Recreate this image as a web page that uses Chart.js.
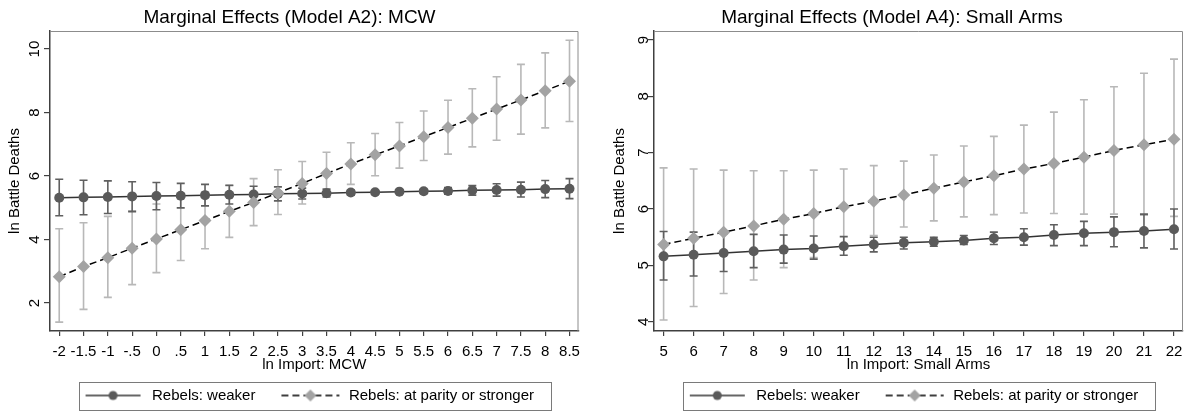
<!DOCTYPE html>
<html>
<head>
<meta charset="utf-8">
<script src="https://cdn.jsdelivr.net/npm/chart.js@4.4.1/dist/chart.umd.min.js"></script>
<style>
  html, body { margin: 0; padding: 0; background: #fff; overflow: hidden; }
  canvas { position: absolute; top: 0; }
  #mcwChart { left: 0; }
  #armsChart { left: 601px; }
</style>
</head>
<body>
<canvas id="mcwChart" width="585" height="414"></canvas>
<canvas id="armsChart" width="591" height="414"></canvas>
<script>
// ---- Model A2: MCW ----
const mcwX = [-2, -1.5, -1, -0.5, 0, 0.5, 1, 1.5, 2, 2.5, 3, 3.5, 4, 4.5, 5, 5.5, 6, 6.5, 7, 7.5, 8, 8.5];
const mcwTickLabels = ['-2', '-1.5', '-1', '-.5', '0', '.5', '1', '1.5', '2', '2.5', '3', '3.5', '4', '4.5', '5', '5.5', '6', '6.5', '7', '7.5', '8', '8.5'];
const mcwYTicks = [2, 4, 6, 8, 10];
const mcwWeaker = [5.32, 5.33, 5.34, 5.36, 5.37, 5.38, 5.40, 5.41, 5.42, 5.44, 5.45, 5.46, 5.48, 5.49, 5.51, 5.52, 5.53, 5.55, 5.56, 5.57, 5.59, 5.60];
const mcwWeakerLo = [4.75, 4.78, 4.82, 4.88, 4.94, 5.00, 5.06, 5.12, 5.17, 5.22, 5.28, 5.34, 5.40, 5.45, 5.47, 5.45, 5.43, 5.40, 5.37, 5.34, 5.32, 5.29];
const mcwWeakerHi = [5.90, 5.87, 5.85, 5.82, 5.80, 5.77, 5.74, 5.71, 5.68, 5.66, 5.62, 5.59, 5.56, 5.54, 5.55, 5.58, 5.64, 5.70, 5.76, 5.81, 5.86, 5.92];
const mcwStronger = [2.83, 3.15, 3.43, 3.73, 4.02, 4.31, 4.60, 4.89, 5.17, 5.47, 5.77, 6.08, 6.38, 6.67, 6.95, 7.24, 7.53, 7.82, 8.11, 8.40, 8.69, 8.99];
const mcwStrongerLo = [1.40, 1.80, 2.18, 2.58, 2.96, 3.34, 3.71, 4.07, 4.44, 4.79, 5.12, 5.43, 5.74, 6.01, 6.25, 6.49, 6.69, 6.92, 7.13, 7.32, 7.52, 7.72];
const mcwStrongerHi = [4.34, 4.53, 4.73, 4.91, 5.12, 5.29, 5.49, 5.70, 5.92, 6.20, 6.46, 6.75, 7.05, 7.34, 7.69, 8.05, 8.39, 8.75, 9.13, 9.52, 9.88, 10.28];

// ---- Model A4: Small Arms ----
const armsX = [5, 6, 7, 8, 9, 10, 11, 12, 13, 14, 15, 16, 17, 18, 19, 20, 21, 22];
const armsTickLabels = ['5', '6', '7', '8', '9', '10', '11', '12', '13', '14', '15', '16', '17', '18', '19', '20', '21', '22'];
const armsYTicks = [4, 5, 6, 7, 8, 9];
const armsWeaker = [5.16, 5.19, 5.22, 5.25, 5.28, 5.30, 5.34, 5.37, 5.40, 5.42, 5.44, 5.48, 5.50, 5.54, 5.57, 5.59, 5.61, 5.64];
const armsWeakerLo = [4.74, 4.81, 4.89, 4.96, 5.04, 5.11, 5.18, 5.24, 5.29, 5.34, 5.37, 5.37, 5.36, 5.35, 5.35, 5.33, 5.31, 5.29];
const armsWeakerHi = [5.60, 5.59, 5.56, 5.55, 5.54, 5.52, 5.51, 5.50, 5.50, 5.50, 5.53, 5.59, 5.65, 5.72, 5.78, 5.86, 5.91, 6.00];
const armsStronger = [5.37, 5.48, 5.59, 5.70, 5.82, 5.92, 6.04, 6.14, 6.25, 6.37, 6.48, 6.59, 6.71, 6.81, 6.92, 7.04, 7.14, 7.24];
const armsStrongerLo = [4.03, 4.27, 4.50, 4.74, 4.96, 5.14, 5.38, 5.53, 5.68, 5.79, 5.86, 5.90, 5.93, 5.92, 5.91, 5.91, 5.89, 5.87];
const armsStrongerHi = [6.73, 6.71, 6.69, 6.68, 6.68, 6.69, 6.71, 6.77, 6.85, 6.96, 7.12, 7.29, 7.49, 7.72, 7.94, 8.17, 8.41, 8.66];

const FONT = "'Liberation Sans', Arial, sans-serif";
const AXIS = '#404040';
const WEAK_LINE = '#333333';
const WEAK_MARK = '#5a5a5a';
const WEAK_BAR = '#5f5f5f';
const STRONG_MARK = '#a3a3a3';
const STRONG_BAR = '#b8b8b8';

Chart.defaults.font.family = FONT;
Chart.defaults.color = '#000';

// line + marker samples for the legend
function legendSample(kind) {
  const c = document.createElement('canvas');
  c.width = 80; c.height = 14;
  const g = c.getContext('2d');
  g.lineWidth = 1.5;
  if (kind === 'weaker') {
    g.strokeStyle = WEAK_LINE;
    g.beginPath(); g.moveTo(21, 7); g.lineTo(76, 7); g.stroke();
    g.fillStyle = WEAK_MARK;
    g.beginPath(); g.arc(48.5, 7, 4.5, 0, Math.PI * 2); g.fill();
  } else {
    g.strokeStyle = '#000';
    g.setLineDash([7, 4]);
    g.beginPath(); g.moveTo(20, 7); g.lineTo(78, 7); g.stroke();
    g.fillStyle = STRONG_MARK;
    g.beginPath(); g.moveTo(49, 1); g.lineTo(55, 7); g.lineTo(49, 13); g.lineTo(43, 7); g.closePath(); g.fill();
  }
  return c;
}
const weakerSample = legendSample('weaker');
const strongerSample = legendSample('stronger');

const statPlot = {
  id: 'statPlot',
  afterLayout(chart) {
    // centre the legend under the plot region
    const lg = chart.legend, a = chart.chartArea;
    lg.left = a.left - 15;
    lg.right = a.right - 15;
    lg.width = lg.right - lg.left;
  },
  beforeDatasetsDraw(chart) {
    const {ctx, chartArea: a, scales: {x, y}} = chart;
    ctx.save();
    // plot region outline (top and right)
    ctx.strokeStyle = '#8c8c8c';
    ctx.lineWidth = 1;
    ctx.beginPath();
    ctx.moveTo(a.left, a.top + 0.5); ctx.lineTo(a.right - 0.5, a.top + 0.5); ctx.lineTo(a.right - 0.5, a.bottom);
    ctx.stroke();
    // confidence intervals, stronger first
    for (let d = chart.data.datasets.length - 1; d >= 0; d--) {
      const ds = chart.data.datasets[d];
      ctx.strokeStyle = ds.barColor;
      ctx.lineWidth = 1.6;
      ds.data.forEach((p, i) => {
        const px = x.getPixelForValue(p.x);
        const y0 = y.getPixelForValue(ds.lo[i]);
        const y1 = y.getPixelForValue(ds.hi[i]);
        ctx.beginPath();
        ctx.moveTo(px, y0); ctx.lineTo(px, y1);
        ctx.moveTo(px - 4, y0); ctx.lineTo(px + 4, y0);
        ctx.moveTo(px - 4, y1); ctx.lineTo(px + 4, y1);
        ctx.stroke();
      });
    }
    ctx.restore();
  },
  afterDraw(chart) {
    // frame round the legend
    const hb = chart.legend.legendHitBoxes;
    if (!hb || !hb.length) return;
    const last = hb[hb.length - 1];
    const left = hb[0].left + 14;
    const right = last.left + last.width + 17;
    const mid = hb[0].top + hb[0].height / 2;
    const {ctx} = chart;
    ctx.save();
    ctx.strokeStyle = '#7a7a7a';
    ctx.lineWidth = 1;
    ctx.strokeRect(Math.round(left) + 0.5, Math.round(mid - 14) + 0.5, Math.round(right - left), 28);
    ctx.restore();
  }
};

function makeChart(id, o) {
  const toPoints = (ys) => o.xs.map((v, i) => ({x: v, y: ys[i]}));
  return new Chart(document.getElementById(id), {
    type: 'line',
    data: {
      datasets: [{
        label: 'Rebels: weaker',
        data: toPoints(o.weaker),
        lo: o.weakerLo,
        hi: o.weakerHi,
        barColor: WEAK_BAR,
        borderColor: WEAK_LINE,
        borderWidth: 1.5,
        pointStyle: 'circle',
        pointRadius: 5,
        pointBackgroundColor: WEAK_MARK,
        pointBorderColor: WEAK_MARK,
        pointBorderWidth: 0,
        tension: 0,
        order: 1
      }, {
        label: 'Rebels: at parity or stronger',
        data: toPoints(o.stronger),
        lo: o.strongerLo,
        hi: o.strongerHi,
        barColor: STRONG_BAR,
        borderColor: '#000',
        borderWidth: 1.5,
        borderDash: [7, 4],
        pointStyle: 'rectRot',
        pointRadius: 6.5,
        pointBackgroundColor: STRONG_MARK,
        pointBorderColor: STRONG_MARK,
        pointBorderWidth: 0,
        tension: 0,
        order: 0
      }]
    },
    options: {
      responsive: false,
      animation: false,
      events: [],
      layout: {padding: {top: 0, left: 0, right: o.padRight, bottom: 1}},
      plugins: {
        title: {
          display: true,
          text: o.title,
          color: '#000',
          font: {size: 19, weight: 'normal'},
          padding: {top: 6.5, bottom: 1.7}
        },
        legend: {
          position: 'bottom',
          labels: {
            usePointStyle: true,
            pointStyleWidth: 80,
            padding: 6,
            color: '#000',
            font: {size: 15},
            generateLabels: () => [
              {text: 'Rebels: weaker', pointStyle: weakerSample, datasetIndex: 0, fontColor: '#000', lineWidth: 0, strokeStyle: 'rgba(0,0,0,0)', fillStyle: 'rgba(0,0,0,0)'},
              {text: 'Rebels: at parity or stronger', pointStyle: strongerSample, datasetIndex: 1, fontColor: '#000', lineWidth: 0, strokeStyle: 'rgba(0,0,0,0)', fillStyle: 'rgba(0,0,0,0)'}
            ]
          }
        },
        tooltip: {enabled: false}
      },
      scales: {
        x: {
          type: 'linear',
          min: o.xMin,
          max: o.xMax,
          afterBuildTicks: (axis) => { axis.ticks = o.xs.map(v => ({value: v})); },
          afterFit: (axis) => { axis.height = 51; axis.paddingLeft = 0; axis.paddingRight = 0; },
          ticks: {
            autoSkip: false,
            maxRotation: 0,
            padding: 6.5,
            color: '#000',
            font: {size: 15},
            callback: (v) => o.xLabels[o.xs.indexOf(v)]
          },
          grid: {drawOnChartArea: false, tickLength: 5, color: AXIS, lineWidth: 1.2},
          border: {color: AXIS, width: 1.5},
          title: {display: true, text: o.xTitle, color: '#000', font: {size: 15}, padding: {top: 0, bottom: 8}}
        },
        y: {
          min: o.yMin,
          max: o.yMax,
          afterBuildTicks: (axis) => { axis.ticks = o.yTicks.map(v => ({value: v})); },
          afterFit: (axis) => { axis.width = o.yWidth; axis.paddingTop = 0; axis.paddingBottom = 0; },
          ticks: {
            minRotation: 90,
            maxRotation: 90,
            crossAlign: 'center',
            padding: o.yTickPad,
            color: '#000',
            font: {size: 15}
          },
          grid: {drawOnChartArea: false, tickLength: 6, color: AXIS, lineWidth: 1.2},
          border: {color: AXIS, width: 1.5},
          title: {display: true, text: 'ln Battle Deaths', color: '#000', font: {size: 15}, padding: {top: o.yTitlePad, bottom: 0}}
        }
      }
    },
    plugins: [statPlot]
  });
}

makeChart('mcwChart', {
  title: 'Marginal Effects (Model A2): MCW',
  xTitle: 'ln Import: MCW',
  xs: mcwX, xLabels: mcwTickLabels, yTicks: mcwYTicks,
  weaker: mcwWeaker, weakerLo: mcwWeakerLo, weakerHi: mcwWeakerHi,
  stronger: mcwStronger, strongerLo: mcwStrongerLo, strongerHi: mcwStrongerHi,
  xMin: -2.19, xMax: 8.685, yMin: 1.12, yMax: 10.57,
  yWidth: 50, yTickPad: 1, yTitlePad: 6, padRight: 6
});

makeChart('armsChart', {
  title: 'Marginal Effects (Model A4): Small Arms',
  xTitle: 'ln Import: Small Arms',
  xs: armsX, xLabels: armsTickLabels, yTicks: armsYTicks,
  weaker: armsWeaker, weakerLo: armsWeakerLo, weakerHi: armsWeakerHi,
  stronger: armsStronger, strongerLo: armsStrongerLo, strongerHi: armsStrongerHi,
  xMin: 4.68, xMax: 22.3, yMin: 3.835, yMax: 9.16,
  yWidth: 53, yTickPad: 0, yTitlePad: 10, padRight: 9
});
</script>
</body>
</html>
